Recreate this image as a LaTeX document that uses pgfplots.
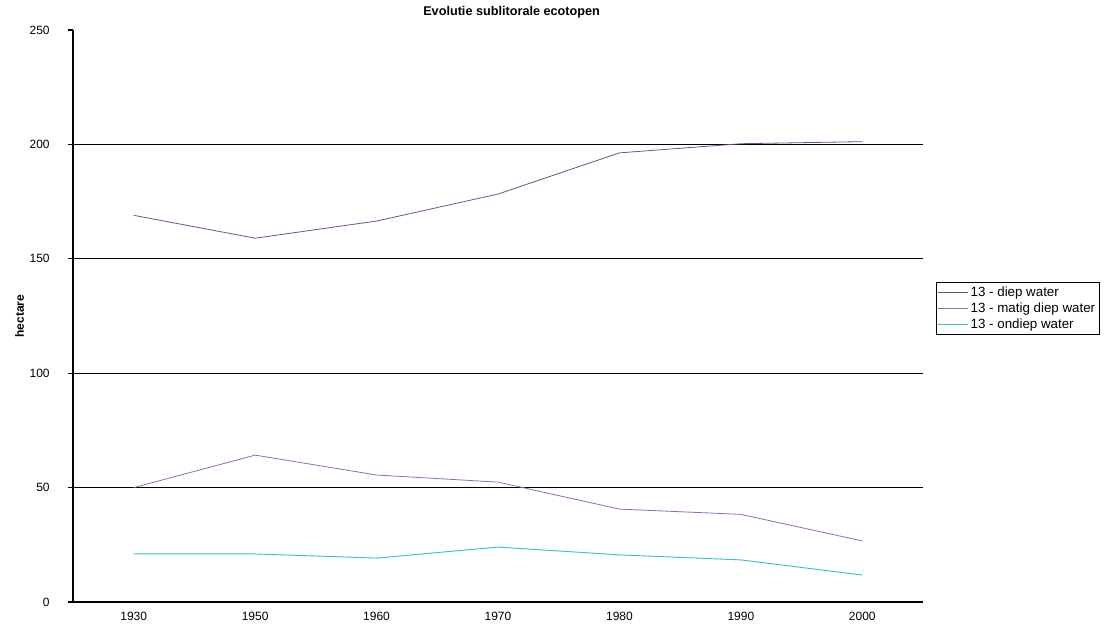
\documentclass[border=0pt]{standalone}
\usepackage{pgfplots}
\pgfplotsset{compat=1.18}
\usepackage{fontspec}
\setmainfont{Liberation Sans}
\definecolor{diep}{HTML}{5A5A8C}
\definecolor{matig}{HTML}{6F7DB0}
\definecolor{ondiep}{HTML}{3FC0C0}
\begin{document}
\begin{tikzpicture}
\begin{axis}[name=ax, scale only axis, width=637.5pt, height=429pt,
  xmin=0, xmax=7, ymin=0, ymax=250,
  axis x line*=bottom, axis y line*=left,
  axis line style={-, black, line width=0.8pt},
  xtick={0.5,1.5,...,6.5},
  xticklabels={1930,1950,1960,1970,1980,1990,2000},
  x tick style={draw=none},
  extra x ticks={1,2,3,4,5,6,7},
  extra x tick labels={},
  extra x tick style={draw=black, line width=0.8pt, tick align=outside, major tick length=4pt},
  ytick={0,50,...,250},
  y tick style={black, line width=0.8pt},
  tick align=outside, major tick length=4pt,
  extra y ticks={50,100,150,200},
  extra y tick labels={},
  extra y tick style={grid=major, major grid style={black, line width=0.75pt}, major tick length=0pt},
  tick label style={font=\fontsize{9}{10}\selectfont},
  y tick label style={xshift=-10pt},
  /pgf/number format/assume math mode=true,
  ylabel={\textbf{hectare}},
  y label style={at={(axis description cs:0,0.5)}, anchor=center, yshift=40pt, font=\fontsize{9}{10}\selectfont},
  title={\textbf{Evolutie sublitorale ecotopen}},
  title style={at={(axis description cs:0.516,1)}, anchor=center, yshift=7.5pt, font=\fontsize{9.5}{11}\selectfont},
  legend style={at={(rel axis cs:1.0153,0.5594)}, anchor=north west, draw=black, line width=0.6pt,
    font=\fontsize{10}{11}\selectfont, inner sep=1pt, row sep=-0.6pt, legend cell align=left},
  legend image code/.code={\draw[#1] (0pt,0pt) -- (22pt,0pt);},
  clip=false,
]
\addplot[diep, line width=0.6pt] coordinates {(0.5,169) (1.5,159) (2.5,166.5) (3.5,178.3) (4.5,196.3) (5.5,200.3) (6.5,201.2)};
\addlegendentry{13 - diep water}
\addplot[matig, line width=0.6pt] coordinates {(0.5,50) (1.5,64.2) (2.5,55.5) (3.5,52.4) (4.5,40.6) (5.5,38.3) (6.5,26.7)};
\addlegendentry{13 - matig diep water}
\addplot[ondiep, line width=0.7pt] coordinates {(0.5,21) (1.5,21) (2.5,19.2) (3.5,24) (4.5,20.6) (5.5,18.4) (6.5,11.8)};
\addlegendentry{13 - ondiep water}
\end{axis}
\path[use as bounding box] ([xshift=-54.75pt,yshift=-23.25pt]ax.south west) rectangle ++(838.5pt,474.75pt);
\end{tikzpicture}
\end{document}
